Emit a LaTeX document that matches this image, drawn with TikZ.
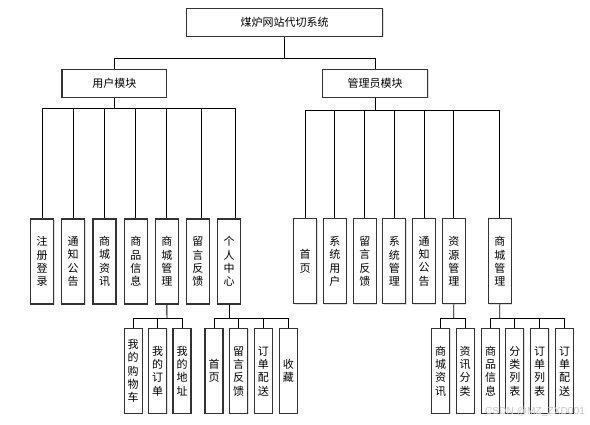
\documentclass[tikz,border=0pt]{standalone}
\usepackage{fontspec}
\newfontfamily\cjk{Noto Sans CJK SC}
\newfontfamily\wmfont{Liberation Sans}
\usetikzlibrary{shadows}
\begin{document}
\begin{tikzpicture}[x=1pt,y=-1pt,
  boxbase/.style={draw=black!80, line width=1.1pt, fill=white, inner sep=0pt,
    drop shadow={shadow xshift=0.8pt, shadow yshift=-0.8pt, fill=gray!50, opacity=0.5},
    font=\cjk\fontsize{11}{13.3}\selectfont, align=center},
  hbox/.style={boxbase, minimum height=28pt},
  leaf/.style={boxbase, minimum width=23pt, minimum height=85pt},
  sub/.style={boxbase, minimum width=18pt, minimum height=84.6pt},
  wire/.style={draw=black, line width=0.9pt}]
\useasboundingbox (0,0) rectangle (590,425);
\fill[white] (0,0) rectangle (590,425);

% top levels
\node[hbox, minimum width=196pt] (title) at (284.7,22.2) {煤炉网站代切系统};
\node[hbox, minimum width=104.7pt] (user) at (114.3,83.2) {用户模块};
\node[hbox, minimum width=105pt] (admin) at (375.2,83.2) {管理员模块};

% user leaves
\node[leaf] (u1) at (42.2,261.5) {注\\册\\登\\录};
\node[leaf] (u2) at (73.2,261.5) {通\\知\\公\\告};
\node[leaf] (u3) at (104.5,261.5) {商\\城\\资\\讯};
\node[leaf] (u4) at (135.8,261.5) {商\\品\\信\\息};
\node[leaf] (u5) at (166.8,261.5) {商\\城\\管\\理};
\node[leaf] (u6) at (197.8,261.5) {留\\言\\反\\馈};
\node[leaf] (u7) at (229,261.5) {个\\人\\中\\心};

% admin leaves
\node[leaf] (a1) at (305.2,261.4) {首\\页};
\node[leaf] (a2) at (334.8,261.4) {系\\统\\用\\户};
\node[leaf] (a3) at (364.8,261.4) {留\\言\\反\\馈};
\node[leaf] (a4) at (394.3,261.4) {系\\统\\管\\理};
\node[leaf] (a5) at (424,261.4) {通\\知\\公\\告};
\node[leaf] (a6) at (453.8,261.4) {资\\源\\管\\理};
\node[leaf] (a7) at (499.8,261.4) {商\\城\\管\\理};

% user sub leaves
\node[sub] (s1) at (133.2,371) {我\\的\\购\\物\\车};
\node[sub] (s2) at (157.7,371) {我\\的\\订\\单};
\node[sub] (s3) at (182,371) {我\\的\\地\\址};
\node[sub] (p1) at (214,371) {首\\页};
\node[sub] (p2) at (238.7,371) {留\\言\\反\\馈};
\node[sub] (p3) at (263.3,371) {订\\单\\配\\送};
\node[sub] (p4) at (288.3,371) {收\\藏};

% admin sub leaves
\node[sub] (r1) at (440.7,371) {商\\城\\资\\讯};
\node[sub] (r2) at (465.2,371) {资\\讯\\分\\类};
\node[sub] (m1) at (490.5,371) {商\\品\\信\\息};
\node[sub] (m2) at (514.8,371) {分\\类\\列\\表};
\node[sub] (m3) at (539.7,371) {订\\单\\列\\表};
\node[sub] (m4) at (564.5,371) {订\\单\\配\\送};

% bus coordinates
\coordinate (busT) at (284.7,58.3);
\coordinate (busU) at (114.3,108);
\coordinate (busA) at (375.2,110.3);
\coordinate (busS) at (167,318.3);
\coordinate (busP) at (229,318.3);
\coordinate (busR) at (453.7,318.3);
\coordinate (busM) at (499.7,318.3);

% connectors
\draw[wire] (title.south) -- (busT);
\draw[wire] (user.north) |- (busT) -| (admin.north);

\draw[wire] (user.south) -- (busU);
\foreach \n in {u1,u2,u3,u4,u5} \draw[wire] (\n.north) |- (busU);
\draw[wire] ([xshift=3.2pt]u6.north) |- (busU);
\draw[wire] ([xshift=6.3pt]u7.north) |- (busU);

\draw[wire] (admin.south) -- (busA);
\foreach \n in {a1,a2,a3,a4,a5,a6,a7} \draw[wire] (\n.north) |- (busA);

\draw[wire] (u5.south) -- (busS);
\foreach \n in {s1,s2,s3} \draw[wire] (\n.north) |- (busS);
\draw[wire] (u7.south) -- (busP);
\foreach \n in {p1,p2,p3,p4} \draw[wire] (\n.north) |- (busP);
\draw[wire] (a6.south) -- (busR);
\foreach \n in {r1,r2} \draw[wire] (\n.north) |- (busR);
\draw[wire] (a7.south) -- (busM);
\foreach \n in {m1,m2,m3,m4} \draw[wire] (\n.north) |- (busM);

% watermark
\node[text=gray!45, font=\wmfont\fontsize{10.2}{12}\selectfont, inner sep=0pt] (wm) at (535,412) {CSDN @MZ\_ZXD001};
\end{tikzpicture}
\end{document}
